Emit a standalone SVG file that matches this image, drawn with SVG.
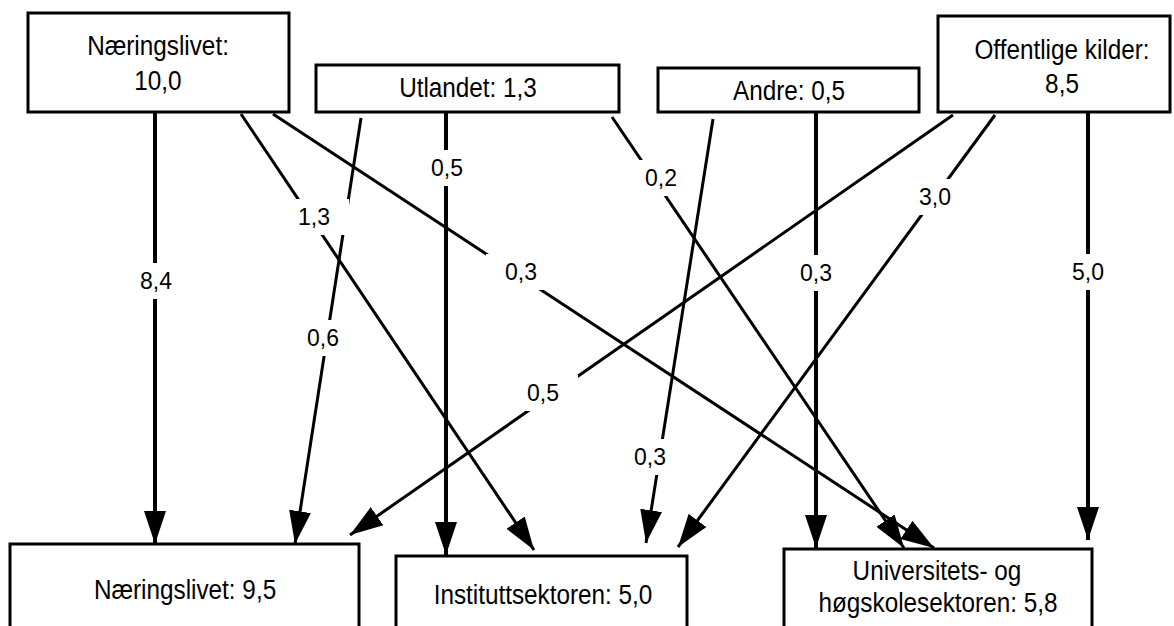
<svg xmlns="http://www.w3.org/2000/svg" width="1174" height="626" viewBox="0 0 1174 626">
<style>
.box{fill:#fff;stroke:#000;stroke-width:3}
.t{font-family:"Liberation Sans",Arial,sans-serif;font-size:24.3px;fill:#000;text-anchor:middle}
.lbl{font-family:"Liberation Sans",Arial,sans-serif;font-size:23px;fill:#000;text-anchor:middle}
.lb{fill:#fff}
.v{stroke:#000;stroke-width:4;fill:none}
.d{stroke:#000;stroke-width:3;fill:none}
</style>
<defs>
<marker id="ah" markerUnits="userSpaceOnUse" markerWidth="34" markerHeight="24" refX="33" refY="11" orient="auto" viewBox="0 0 34 22">
<path d="M0,0 L33,11 L0,22 Z" fill="#000"/>
</marker>
</defs>
<rect width="1174" height="626" fill="#fff"/>
<g id="connectors">
<line class="v" x1="155" y1="112" x2="155" y2="544" marker-end="url(#ah)"/>
<line class="d" x1="241" y1="114" x2="534" y2="550" marker-end="url(#ah)"/>
<line class="d" x1="273" y1="114" x2="934" y2="548" marker-end="url(#ah)"/>
<line class="d" x1="361" y1="118" x2="295" y2="544" marker-end="url(#ah)"/>
<line class="v" x1="446" y1="112" x2="446" y2="555" marker-end="url(#ah)"/>
<line class="d" x1="612" y1="117" x2="904" y2="548" marker-end="url(#ah)"/>
<line class="d" x1="713" y1="119" x2="646" y2="543" marker-end="url(#ah)"/>
<line class="v" x1="816" y1="112" x2="816" y2="548" marker-end="url(#ah)"/>
<line class="d" x1="953" y1="115" x2="350" y2="535" marker-end="url(#ah)"/>
<line class="d" x1="995" y1="115" x2="678" y2="547" marker-end="url(#ah)"/>
<line class="v" x1="1088" y1="112" x2="1088" y2="540" marker-end="url(#ah)"/>
<g id="labels">
<rect class="lb" x="121" y="263" width="70" height="36"/><text class="lbl" x="156" y="289">8,4</text>
<rect class="lb" x="279" y="199" width="70" height="36"/><text class="lbl" x="314" y="225">1,3</text>
<rect class="lb" x="486" y="254" width="70" height="36"/><text class="lbl" x="521" y="280">0,3</text>
<rect class="lb" x="288" y="320" width="70" height="36"/><text class="lbl" x="323" y="346">0,6</text>
<rect class="lb" x="412" y="150" width="70" height="36"/><text class="lbl" x="447" y="176">0,5</text>
<rect class="lb" x="626" y="160" width="70" height="36"/><text class="lbl" x="661" y="186">0,2</text>
<rect class="lb" x="615" y="439" width="70" height="36"/><text class="lbl" x="650" y="465">0,3</text>
<rect class="lb" x="781" y="255" width="70" height="36"/><text class="lbl" x="816" y="281">0,3</text>
<rect class="lb" x="508" y="375" width="70" height="36"/><text class="lbl" x="543" y="401">0,5</text>
<rect class="lb" x="900" y="179" width="70" height="36"/><text class="lbl" x="935" y="205">3,0</text>
<rect class="lb" x="1053" y="254" width="70" height="36"/><text class="lbl" x="1088" y="280">5,0</text>
</g>
</g>
<g id="src-naeringslivet">
<rect class="box" x="28" y="13" width="261" height="99"/>
<text class="t" transform="translate(158,55) scale(1,1.17)">Næringslivet:</text>
<text class="t" transform="translate(158,90) scale(1,1.17)">10,0</text>
</g>
<g id="src-utlandet">
<rect class="box" x="316" y="65" width="303" height="47"/>
<text class="t" transform="translate(468,97) scale(1,1.17)">Utlandet: 1,3</text>
</g>
<g id="src-andre">
<rect class="box" x="658" y="68" width="261" height="44"/>
<text class="t" transform="translate(789,100) scale(1,1.17)">Andre: 0,5</text>
</g>
<g id="src-offentlige">
<rect class="box" x="938" y="16" width="232" height="96"/>
<text class="t" transform="translate(1062,59) scale(1,1.17)">Offentlige kilder:</text>
<text class="t" transform="translate(1062,93) scale(1,1.17)">8,5</text>
</g>
<g id="dst-naeringslivet">
<rect class="box" x="10" y="544" width="349" height="100"/>
<text class="t" transform="translate(185,599) scale(1,1.17)">Næringslivet: 9,5</text>
</g>
<g id="dst-institutt">
<rect class="box" x="396" y="556" width="291" height="100"/>
<text class="t" transform="translate(543,604) scale(1,1.17)">Instituttsektoren: 5,0</text>
</g>
<g id="dst-uh">
<rect class="box" x="784" y="549" width="308" height="100"/>
<text class="t" transform="translate(937,580) scale(1,1.17)">Universitets- og</text>
<text class="t" transform="translate(938,612) scale(1,1.17)">høgskolesektoren: 5,8</text>
</g>
</svg>
